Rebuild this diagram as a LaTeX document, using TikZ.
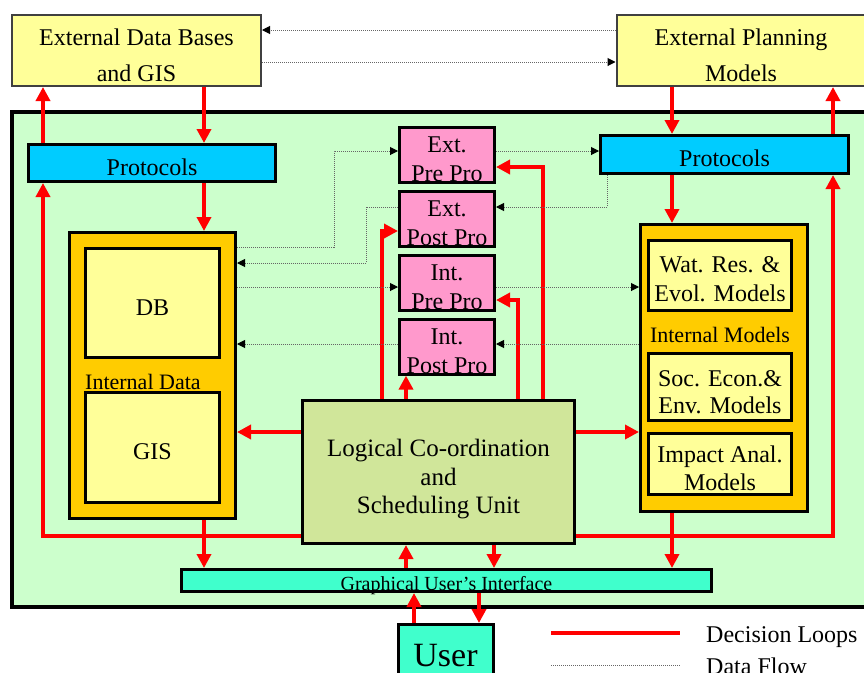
\documentclass[tikz,border=0pt]{standalone}
\usepackage{fontspec}
\setmainfont{Liberation Serif}
\usetikzlibrary{arrows.meta}
\definecolor{extyellow}{RGB}{255,255,153}
\definecolor{bggreen}{RGB}{204,255,204}
\definecolor{protocyan}{RGB}{0,204,255}
\definecolor{propink}{RGB}{255,153,204}
\definecolor{storeorange}{RGB}{255,204,0}
\definecolor{logicgreen}{RGB}{208,230,154}
\definecolor{guiaqua}{RGB}{64,255,204}
\begin{document}
\begin{tikzpicture}[x=1pt,y=-1pt,
	box/.style={draw,line width=3pt,inner sep=0pt,align=center,text height=25pt,font=\fontsize{24}{29}\selectfont},
	ext/.style={box,draw=black!75,line width=2pt,fill=extyellow,font=\fontsize{24}{36}\selectfont,text height=63pt,minimum width=249pt,minimum height=71pt},
	proto/.style={box,fill=protocyan,minimum width=247pt,minimum height=37pt},
	pro/.style={box,fill=propink,text height=54pt,minimum width=95pt,minimum height=53pt},
	store/.style={box,fill=storeorange,minimum width=166pt,minimum height=286pt},
	model/.style={box,fill=extyellow,text height=53pt,minimum width=143pt},
	title/.style={inner sep=0pt,font=\fontsize{22}{26}\selectfont},
	decision/.style={draw=red,line width=3.5pt,-{Triangle[length=14pt,width=14pt]}},
	dataflow/.style={draw=black!60,line width=1pt,densely dotted,-{Triangle[length=8pt,width=8pt,color=black]}}]
	\useasboundingbox (0,0) rectangle (864,672);
	\clip (0,0) rectangle (864,672);

	\node[ext] (extdb) at (136.5,50.5) {External Data Bases\\and GIS};
	\node[ext] (extplan) at (741,50.5) {External Planning\\Models};
	\draw[dataflow] (extplan.west |- 0,30) -- (extdb.east |- 0,30);
	\draw[dataflow] (extdb.east |- 0,62) -- (extplan.west |- 0,62);

	\draw[line width=4pt,fill=bggreen] (12,111.5) rectangle (880,607);

	\node[proto] (protoL) at (152,163) {Protocols};
	\node[proto,minimum height=38pt,minimum width=248pt] (protoR) at (724.5,154.5) {Protocols};
	\foreach \n/\a/\b [count=\i from 0] in {extpre/Ext./Pre Pro,extpost/Ext./Post Pro,intpre/Int./Pre Pro,intpost/Int./Post Pro} {
		\node[pro] (\n) at (447,155+\i*64) {\a\\\b};
	}

	\node[store] (intdata) at (152.5,375.5) {};
	\node[box,fill=extyellow,minimum width=134pt,minimum height=109pt] (db) at (152.5,303) {DB};
	\node[box,fill=extyellow,minimum width=134pt,minimum height=110pt] (gis) at (152.5,447.5) {GIS};
	\node[title,anchor=base west] (intdatatitle) at (85,389) {Internal Data};

	\node[store,minimum width=167pt,minimum height=287pt] (intmod) at (724,368) {};
	\node[model,minimum height=70pt] (watres) at (720,275.5) {Wat. Res. \&\\Evol. Models};
	\node[model,minimum height=67pt,font=\fontsize{24}{27}\selectfont] (socecon) at (720,387) {Soc. Econ.\&\\Env. Models};
	\node[model,minimum height=61pt,font=\fontsize{24}{28}\selectfont] (impact) at (720,464) {Impact Anal.\\Models};
	\node[title,anchor=base] (intmodtitle) at (720,342) {Internal Models};

	\node[box,fill=logicgreen,minimum width=272pt,minimum height=143pt,font=\fontsize{25}{28.5}\selectfont,text height=89pt] (logic) at (438.5,472) {Logical Co-ordination\\and\\Scheduling Unit};
	\node[box,fill=guiaqua,minimum width=530pt,minimum height=22pt,font=\fontsize{20}{24}\selectfont,text height=19pt,text depth=0pt] (gui) at (446.5,580.5) {Graphical User's Interface};
	\node[box,fill=guiaqua,minimum width=95pt,minimum height=66pt,font=\fontsize{34}{40}\selectfont,text height=18pt,text depth=0pt] (user) at (445.5,657.5) {User};

	\draw[decision] (extdb.south -| 204,0) -- (protoL.north -| 204,0);
	\draw[decision] (protoL.north -| 43,0) -- (extdb.south -| 43,0);
	\draw[decision] (protoL.south -| 204,0) -- (intdata.north -| 204,0);
	\draw[decision] (logic.west |- 0,536) -| (protoL.south -| 43,0);
	\draw[decision] (logic.east |- 0,536) -| (protoR.south -| 833,0);
	\draw[decision] (protoR.north -| 833,0) -- (extplan.south -| 833,0);
	\draw[decision] (extplan.south -| 672,0) -- (protoR.north -| 672,0);
	\draw[decision] (protoR.south -| 672,0) -- (intmod.north -| 672,0);
	\draw[decision] (logic.west |- 0,432) -- (intdata.east |- 0,432);
	\draw[decision] (logic.east |- 0,432) -- (intmod.west |- 0,432);
	\draw[decision] (logic.north -| 382,0) |- (extpost.west |- 0,231);
	\draw[decision] (logic.north -| 406,0) -- (intpost.south -| 406,0);
	\draw[decision] (logic.north -| 518,0) |- (intpre.east |- 0,300);
	\draw[decision] (logic.north -| 543,0) |- (extpre.east |- 0,167);
	\draw[decision] (intdata.south -| 204,0) -- (gui.north -| 204,0);
	\draw[decision] (gui.north -| 406,0) -- (logic.south -| 406,0);
	\draw[decision] (logic.south -| 494,0) -- (gui.north -| 494,0);
	\draw[decision] (intmod.south -| 672,0) -- (gui.north -| 672,0);
	\draw[decision] (user.north -| 414,0) -- (gui.south -| 414,0);
	\draw[decision] (gui.south -| 479,0) -- (user.north -| 479,0);

	\draw[dataflow] (intdata.east |- 0,247) -- (334,247) |- (extpre.west |- 0,151);
	\draw[dataflow] (extpost.west |- 0,207) -- (366,207) |- (intdata.east |- 0,263);
	\draw[dataflow] (extpre.east |- 0,151) -- (protoR.west |- 0,151);
	\draw[dataflow] (protoR.south -| 607,0) |- (extpost.east |- 0,207);
	\draw[dataflow] (intdata.east |- 0,287) -- (intpre.west |- 0,287);
	\draw[dataflow] (intpre.east |- 0,287) -- (intmod.west |- 0,287);
	\draw[dataflow] (intpost.west |- 0,344) -- (intdata.east |- 0,344);
	\draw[dataflow] (intmod.west |- 0,344) -- (intpost.east |- 0,344);

	\draw[decision,-] (551,633) -- (680,633);
	\draw[dataflow,-] (551,665) -- (680,665);
	\node[title,anchor=base west,font=\fontsize{24}{29}\selectfont] (keyloops) at (706,642) {Decision Loops};
	\node[title,anchor=base west,font=\fontsize{24}{29}\selectfont] (keyflow) at (706,674) {Data Flow};
\end{tikzpicture}
\end{document}
